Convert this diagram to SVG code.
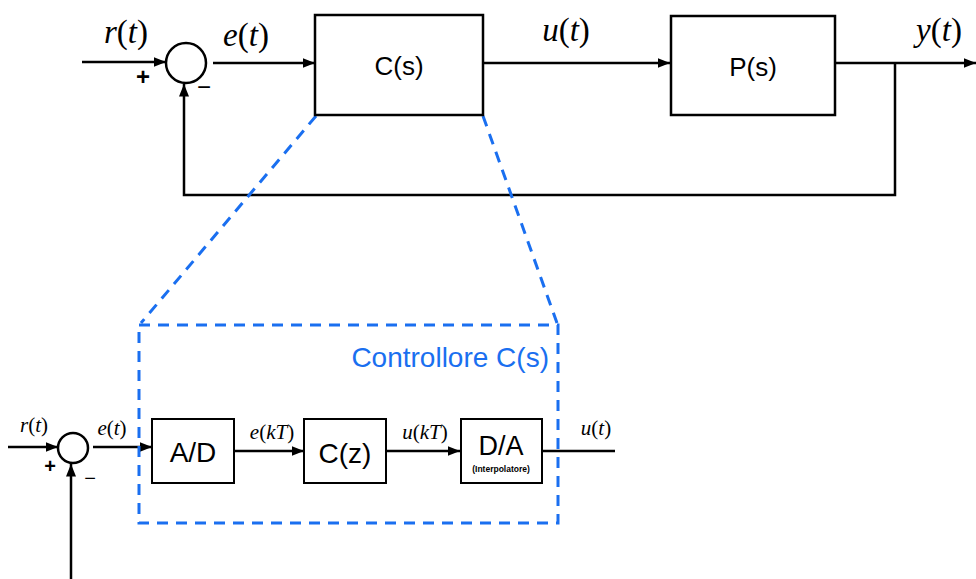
<svg xmlns="http://www.w3.org/2000/svg" width="976" height="579" viewBox="0 0 976 579">
<defs>
<style>
.box{fill:#fff;stroke:#000;stroke-width:2.5}
.sbox{fill:#fff;stroke:#000;stroke-width:2}
.ln{fill:none;stroke:#000;stroke-width:2.5}
.sln{fill:none;stroke:#000;stroke-width:2.5}
.blue{fill:none;stroke:#1a6ff0;stroke-width:3;stroke-dasharray:11 8}
.math{font-family:"Liberation Serif",serif;fill:#000}
.i{font-style:italic}
.sans{font-family:"Liberation Sans",Arial,sans-serif;fill:#000}
</style>
<marker id="ah" viewBox="0 0 10 10" refX="10" refY="5" markerWidth="5" markerHeight="5" orient="auto" markerUnits="strokeWidth">
<path d="M0,1 L10,5 L0,9 z" fill="#000"/>
</marker>
</defs>

<g id="connectors">
<line class="ln" x1="82" y1="62" x2="166" y2="62" marker-end="url(#ah)"/>
<line class="ln" x1="213" y1="63" x2="315" y2="63" marker-end="url(#ah)"/>
<line class="ln" x1="484" y1="63" x2="670" y2="63" marker-end="url(#ah)"/>
<line class="ln" x1="836" y1="63" x2="976" y2="63" marker-end="url(#ah)"/>
<polyline class="ln" points="895,63 895,195 184,195 184,84" marker-end="url(#ah)"/>
<line class="blue" x1="316" y1="116" x2="141" y2="323"/>
<line class="blue" x1="483" y1="116" x2="557" y2="323"/>
<line class="sln" x1="8" y1="447" x2="58" y2="447" marker-end="url(#ah)"/>
<line class="sln" x1="93" y1="447" x2="152" y2="447" marker-end="url(#ah)"/>
<line class="sln" x1="235" y1="451" x2="304" y2="451" marker-end="url(#ah)"/>
<line class="sln" x1="387" y1="451" x2="460" y2="451" marker-end="url(#ah)"/>
<line class="ln" x1="543" y1="451" x2="615" y2="451"/>
<line class="ln" x1="71" y1="579" x2="71" y2="464" marker-end="url(#ah)"/>
</g>

<g id="controller-frame">
<rect class="blue" x="139" y="325" width="419" height="198"/>
<text class="sans" x="549" y="367" font-size="28" text-anchor="end" style="fill:#1a6ff0">Controllore C(s)</text>
</g>

<g id="sum-top">
<circle cx="186" cy="63" r="20" fill="#fff" stroke="#000" stroke-width="2.5"/>
<text class="sans" x="143" y="85" font-size="24" font-weight="bold" text-anchor="middle">+</text>
<text class="sans" x="204" y="95" font-size="24" text-anchor="middle">−</text>
</g>

<g id="Cs">
<rect class="box" x="315" y="15" width="168" height="100"/>
<text class="sans" x="399" y="75" font-size="26" text-anchor="middle">C(s)</text>
</g>

<g id="Ps">
<rect class="box" x="671" y="16" width="164" height="99"/>
<text class="sans" x="753" y="76" font-size="26" text-anchor="middle">P(s)</text>
</g>

<g id="labels-top">
<text class="math" x="126" y="43" font-size="33" text-anchor="middle"><tspan class="i">r</tspan>(<tspan class="i">t</tspan>)</text>
<text class="math" x="246" y="46" font-size="33" text-anchor="middle"><tspan class="i">e</tspan>(<tspan class="i">t</tspan>)</text>
<text class="math" x="566" y="41" font-size="33" text-anchor="middle"><tspan class="i">u</tspan>(<tspan class="i">t</tspan>)</text>
<text class="math" x="939" y="41" font-size="33" text-anchor="middle"><tspan class="i">y</tspan>(<tspan class="i">t</tspan>)</text>
</g>

<g id="sum-bottom">
<circle cx="73" cy="448" r="15" fill="#fff" stroke="#000" stroke-width="2.5"/>
<text class="sans" x="50" y="473" font-size="20" font-weight="bold" text-anchor="middle">+</text>
<text class="sans" x="90" y="485" font-size="20" text-anchor="middle">−</text>
</g>

<g id="AD">
<rect class="sbox" x="152" y="419" width="82" height="64"/>
<text class="sans" x="193" y="462" font-size="28" text-anchor="middle">A/D</text>
</g>

<g id="Cz">
<rect class="sbox" x="304" y="419" width="82" height="64"/>
<text class="sans" x="345" y="463" font-size="28" text-anchor="middle">C(z)</text>
</g>

<g id="DA">
<rect class="sbox" x="461" y="419" width="81" height="64"/>
<text class="sans" x="501" y="455" font-size="27" text-anchor="middle">D/A</text>
<text class="sans" x="501" y="472" font-size="8.5" font-weight="bold" text-anchor="middle">(Interpolatore)</text>
</g>

<g id="labels-bottom">
<text class="math" x="34" y="432" font-size="21" text-anchor="middle"><tspan class="i">r</tspan>(<tspan class="i">t</tspan>)</text>
<text class="math" x="112" y="435" font-size="21" text-anchor="middle"><tspan class="i">e</tspan>(<tspan class="i">t</tspan>)</text>
<text class="math" x="272" y="439" font-size="21" text-anchor="middle"><tspan class="i">e</tspan>(<tspan class="i">kT</tspan>)</text>
<text class="math" x="425" y="439" font-size="21" text-anchor="middle"><tspan class="i">u</tspan>(<tspan class="i">kT</tspan>)</text>
<text class="math" x="596" y="435" font-size="21" text-anchor="middle"><tspan class="i">u</tspan>(<tspan class="i">t</tspan>)</text>
</g>
</svg>
